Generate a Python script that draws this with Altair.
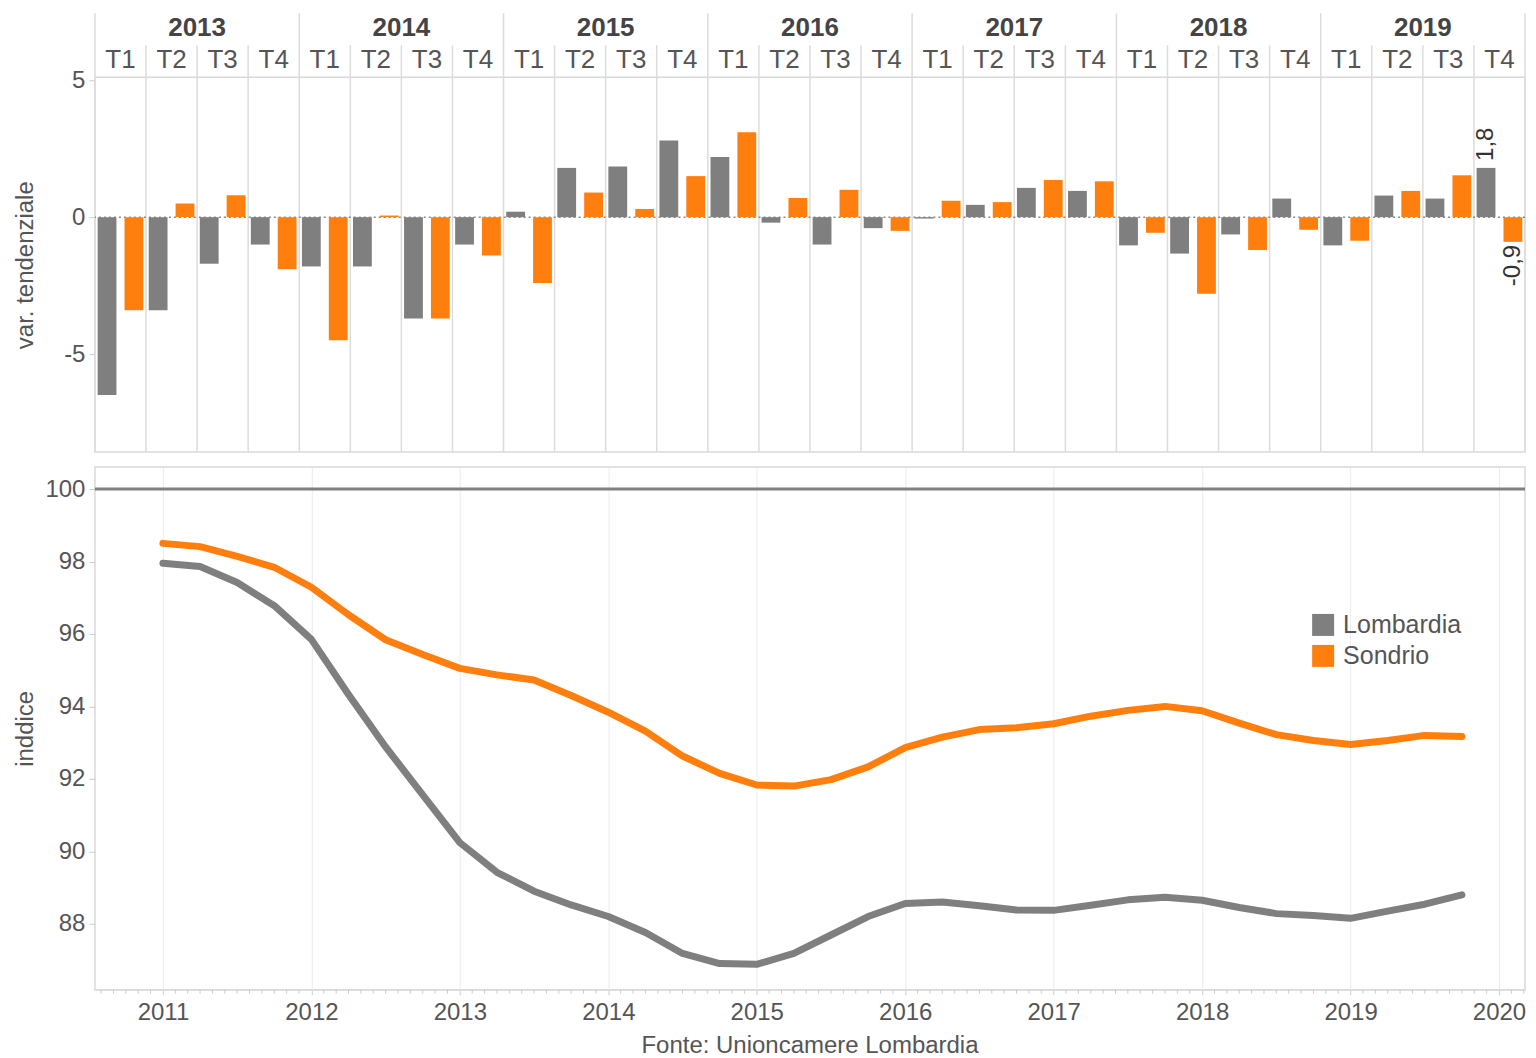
import altair as alt
import pandas as pd

# ---------------- data ----------------
years = ["2013", "2014", "2015", "2016", "2017", "2018", "2019"]
quarters = ["T1", "T2", "T3", "T4"]
series = ["Lombardia", "Sondrio"]
colors = ["#7f7f7f", "#ff7f0e"]

# variazione tendenziale (quarterly, 2013 T1 .. 2019 T4)
var_lombardia = [-6.5, -3.4, -1.7, -1.0,
                 -1.8, -1.8, -3.7, -1.0,
                 0.2, 1.8, 1.85, 2.8,
                 2.2, -0.2, -1.0, -0.4,
                 -0.05, 0.45, 1.07, 0.96,
                 -1.03, -1.33, -0.63, 0.68,
                 -1.03, 0.79, 0.68, 1.8]
var_sondrio = [-3.4, 0.5, 0.8, -1.9,
               -4.5, 0.06, -3.7, -1.4,
               -2.4, 0.9, 0.3, 1.5,
               3.1, 0.7, 1.0, -0.5,
               0.6, 0.55, 1.36, 1.31,
               -0.57, -2.8, -1.2, -0.46,
               -0.86, 0.96, 1.53, -0.9]
last_labels = {"Lombardia": "1,8", "Sondrio": "-0,9"}

# indice (quarterly, 2011 T1 .. 2019 T4)
idx_years = [2011, 2012, 2013, 2014, 2015, 2016, 2017, 2018, 2019]
idx_lombardia = [97.95, 97.86, 97.42, 96.78,
                 95.85, 94.33, 92.88, 91.56,
                 90.24, 89.42, 88.9, 88.52,
                 88.2, 87.76, 87.18, 86.9,
                 86.88, 87.18, 87.69, 88.2,
                 88.56, 88.6, 88.5, 88.38,
                 88.37, 88.51, 88.66, 88.73,
                 88.65, 88.45, 88.28, 88.23,
                 88.15, 88.35, 88.54, 88.8]
idx_sondrio = [98.5, 98.41, 98.14, 97.84,
               97.29, 96.53, 95.84, 95.43,
               95.05, 94.87, 94.73, 94.3,
               93.84, 93.32, 92.63, 92.15,
               91.83, 91.8, 91.98, 92.33,
               92.86, 93.15, 93.36, 93.41,
               93.52, 93.73, 93.89, 94.0,
               93.88, 93.54, 93.22, 93.06,
               92.95, 93.06, 93.2, 93.17]
source_text = "Fonte: Unioncamere Lombardia"

# ---------------- tables ----------------
keys = [f"{y} {q}" for y in years for q in quarters]
kdf = pd.DataFrame({"key": keys,
                    "year": [y for y in years for q in quarters],
                    "quarter": [q for y in years for q in quarters]})
rows = []
for i, k in enumerate(keys):
    for s, vals in zip(series, [var_lombardia, var_sondrio]):
        rows.append({"key": k, "series": s, "value": vals[i],
                     "label": last_labels[s] if i == len(keys) - 1 else ""})
bdf = pd.DataFrame(rows)

lrows = []
for s, vals in zip(series, [idx_lombardia, idx_sondrio]):
    i = 0
    for y in idx_years:
        for qi in range(4):
            lrows.append({"t": y + qi * 0.25, "series": s, "value": vals[i]})
            i += 1
ldf = pd.DataFrame(lrows)

minor = [y + m / 12 for y in range(2010, 2021) for m in range(1, 12)]
minor = [m for m in minor if 2010.55 < m < 2020.17]
mdf = pd.DataFrame({"t": minor})

# ---------------- style ----------------
FONT = "Liberation Sans"
TXT = "#555555"
GRID = "#dcdcdc"
W = 1431
HT = 375
HB = 523

xscale = alt.Scale(domain=keys, paddingInner=0, paddingOuter=0)
xq = alt.X("key:N", sort=keys, scale=xscale, axis=None)
xq0 = alt.X("key:N", sort=keys, scale=xscale, axis=None, bandPosition=0)
cscale = alt.Scale(domain=series, range=colors)
ytop = alt.Scale(domain=[-8.58, 5.11], nice=False, zero=False)
xoff = alt.XOffset("series:N", sort=series,
                   scale=alt.Scale(domain=series, paddingInner=0.3, paddingOuter=0.1))

yaxis_top = alt.Axis(values=[-5, 0, 5], grid=False, domain=False, tickSize=6,
                     tickColor="#cccccc", labelPadding=4,
                     labelExpr="datum.value < 0 ? '-' + abs(datum.value) : '' + datum.value",
                     title="var. tendenziale", titleX=-69, titleAngle=270,
                     titleBaseline="middle")

base_top = alt.Chart(bdf)

sep_q = alt.Chart(kdf).transform_filter("datum.quarter != 'T1'").mark_rule(
    color=GRID, strokeWidth=1.5).encode(x=xq0, y=alt.value(-32), y2=alt.value(HT))
sep_y = alt.Chart(kdf).transform_filter("datum.quarter == 'T1'").mark_rule(
    color=GRID, strokeWidth=1.5).encode(x=xq0, y=alt.value(-64), y2=alt.value(HT))
sep_end = alt.Chart(alt.Data(values=[{}])).mark_rule(
    color=GRID, strokeWidth=1.5).encode(x=alt.value(W), y=alt.value(-64), y2=alt.value(HT))

zero = alt.Chart(alt.Data(values=[{}])).mark_rule(
    color="#8a8a8a", strokeDash=[2, 3], strokeWidth=1.5).encode(y=alt.datum(0, scale=ytop))

bars = base_top.mark_bar().encode(
    x=xq,
    xOffset=xoff,
    y=alt.Y("value:Q", scale=ytop, axis=yaxis_top),
    color=alt.Color("series:N", scale=cscale, legend=None),
)

qlab = alt.Chart(kdf).mark_text(font=FONT, fontSize=26, color=TXT, baseline="middle").encode(
    x=xq, y=alt.value(-17), text="quarter:N")
ylab = alt.Chart(kdf).transform_filter("datum.quarter == 'T3'").mark_text(
    font=FONT, fontSize=26, fontWeight="bold", color="#444444", baseline="middle").encode(
    x=xq0, y=alt.value(-49), text="year:N")

vlab_pos = base_top.transform_filter("datum.label != '' && datum.value >= 0").mark_text(
    font=FONT, fontSize=24, color="#333333", angle=270, align="left", baseline="middle", dx=7).encode(
    x=xq, xOffset=xoff, y=alt.Y("value:Q", scale=ytop), text="label:N")
vlab_neg = base_top.transform_filter("datum.label != '' && datum.value < 0").mark_text(
    font=FONT, fontSize=24, color="#333333", angle=270, align="right", baseline="middle", dx=-3).encode(
    x=xq, xOffset=xoff, y=alt.Y("value:Q", scale=ytop), text="label:N")

top = alt.layer(sep_q, sep_y, sep_end, zero, bars, qlab, ylab, vlab_pos, vlab_neg).properties(
    width=W, height=HT)

# ---------------- bottom ----------------
xb = alt.Scale(domain=[2010.542, 2020.175], nice=False, zero=False)
yb = alt.Scale(domain=[86.18, 100.607], nice=False, zero=False)

ref100 = alt.Chart(alt.Data(values=[{}])).mark_rule(color="#808080", strokeWidth=3).encode(
    y=alt.datum(100, scale=yb))

ticks = alt.Chart(mdf).mark_rule(color="#cccccc", strokeWidth=1).encode(
    x=alt.X("t:Q", scale=xb), y=alt.value(HB), y2=alt.value(HB + 4))

lines = alt.Chart(ldf).mark_line(strokeWidth=7, strokeCap="round", strokeJoin="round").encode(
    x=alt.X("t:Q", scale=xb,
            axis=alt.Axis(values=list(range(2011, 2021)), format="d", title=None,
                          gridColor="#ebebeb", tickSize=5, tickColor="#cccccc",
                          domainColor="#d9d9d9", labelPadding=6)),
    y=alt.Y("value:Q", scale=yb,
            axis=alt.Axis(values=list(range(88, 101, 2)), format="d", title="inddice",
                          gridColor="#ebebeb", tickSize=6, tickColor="#cccccc", domain=False,
                          labelPadding=4, titleX=-69, titleAngle=270, titleBaseline="middle")),
    color=alt.Color("series:N", scale=cscale, sort=series, legend=None),
    detail="series:N",
)

footer = alt.Chart(alt.Data(values=[{"txt": source_text}])).mark_text(
    font=FONT, fontSize=24, color=TXT, baseline="middle").encode(
    x=alt.value(W / 2), y=alt.value(579), text="txt:N")

# legend (inside the plot, built from the same colour scale)
legdf = pd.DataFrame({"series": series})
ylegend = alt.Y("series:N", sort=series, axis=None,
                scale=alt.Scale(type="point", domain=series, range=[158, 189], padding=0))
leg_sq = alt.Chart(legdf).mark_square(size=484, opacity=1).encode(
    x=alt.value(1229), y=ylegend,
    color=alt.Color("series:N", scale=cscale, legend=None))
leg_tx = alt.Chart(legdf).mark_text(font=FONT, fontSize=25, color=TXT, align="left",
                                    baseline="middle").encode(
    x=alt.value(1249), y=ylegend, text="series:N")

main_bottom = alt.layer(ref100, ticks, lines, footer)
bottom = alt.layer(main_bottom, alt.layer(leg_sq, leg_tx)).resolve_scale(
    y="independent").properties(width=W, height=HB)

chart = alt.vconcat(top, bottom, spacing=12).resolve_scale(
    color="independent", x="independent", y="independent"
).properties(
    padding={"left": 5, "top": 3, "right": 0, "bottom": 0}
).configure_view(stroke="#d9d9d9", strokeWidth=1.5).configure_axis(
    labelFont=FONT, titleFont=FONT, labelFontSize=24, titleFontSize=24,
    labelColor=TXT, titleColor=TXT, titleFontWeight="normal"
)

chart.save("out.html", embed_options={"renderer": "svg", "actions": False})
